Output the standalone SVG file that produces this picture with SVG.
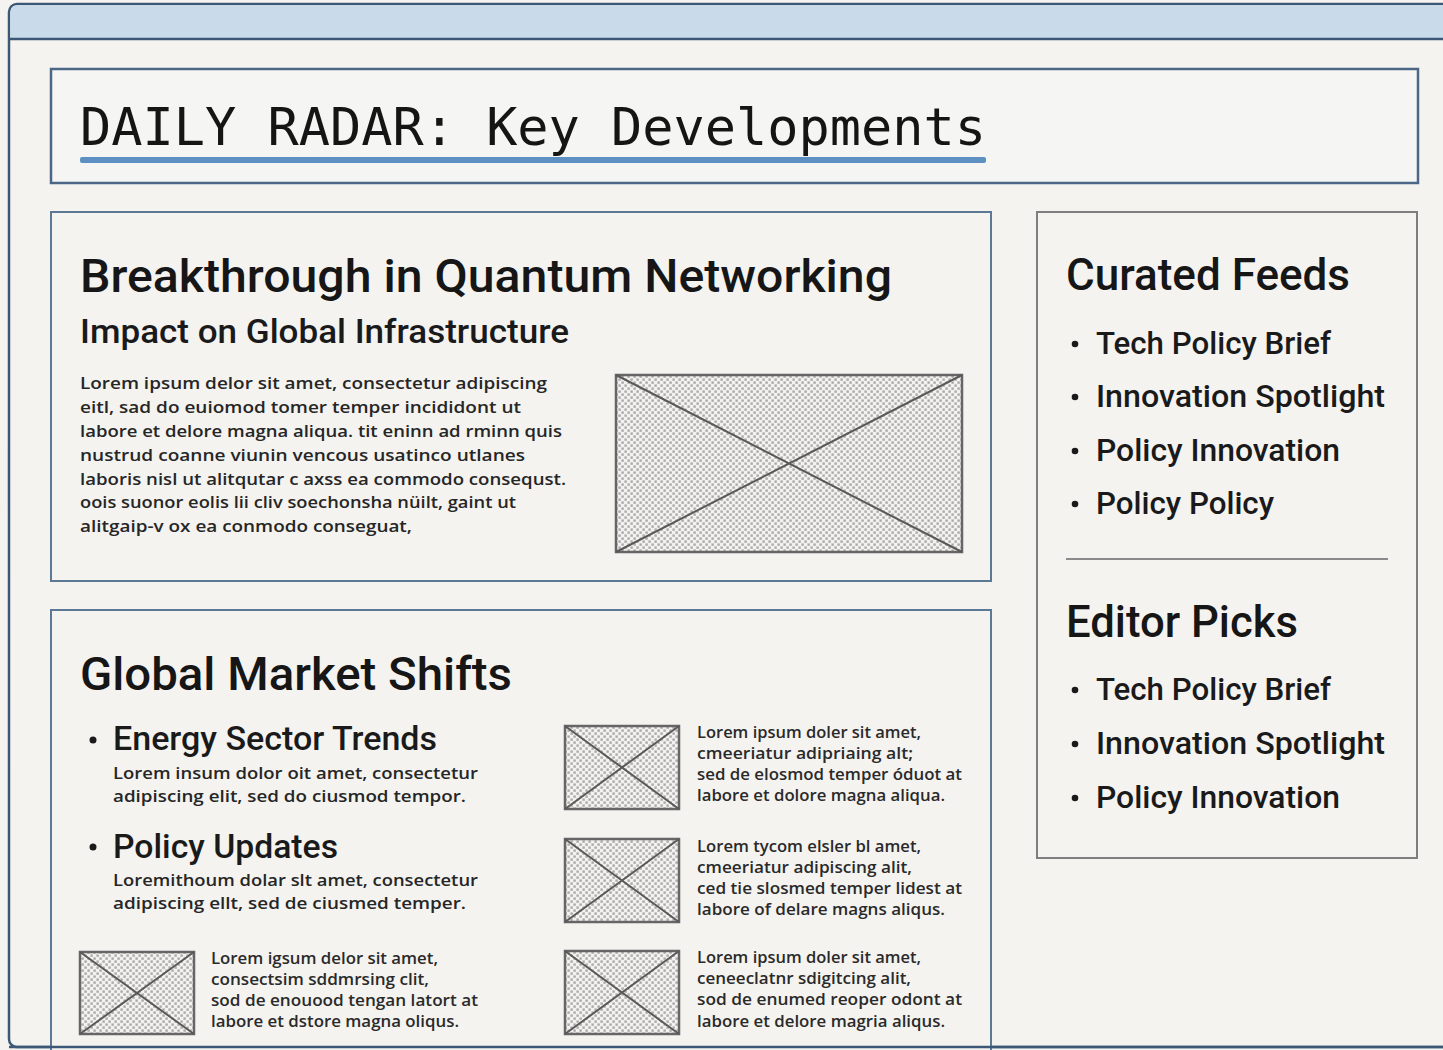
<svg xmlns="http://www.w3.org/2000/svg" width="1443" height="1050" viewBox="0 0 1443 1050">
<defs>
<pattern id="dots" width="6" height="6" patternUnits="userSpaceOnUse">
<rect width="6" height="6" fill="#f3f2f0"/>
<rect x="0.4" y="0.4" width="2.4" height="2.4" fill="#a9a9a9"/>
<rect x="3.4" y="3.4" width="2.4" height="2.4" fill="#a9a9a9"/>
</pattern>
<style>
.mono{font-family:"DejaVu Sans Mono","Liberation Mono",monospace;fill:#151515}
.h{font-family:Roboto,"Noto Sans",sans-serif;fill:#161616;font-weight:500}
.s{font-family:Roboto,"Noto Sans",sans-serif;fill:#1a1a1a;font-weight:500}
.b{font-family:"Open Sans","Noto Sans",sans-serif;fill:#262626;font-size:17px;font-weight:600}
.sm{font-family:"Open Sans","Noto Sans",sans-serif;fill:#2a2a2a;font-size:15.5px;font-weight:600}
.card{fill:#f4f3f0;stroke:#5b7894;stroke-width:2}
.side{fill:#f4f3f0;stroke:#7e7e7e;stroke-width:2}
.img{fill:url(#dots);stroke:#666;stroke-width:2.5}
.x{stroke:#595959;stroke-width:2;fill:none}
.dot{fill:#1a1a1a}
</style>
</defs>
<rect width="1443" height="1050" fill="#f4f3f0"/>
<g id="frame">
<rect x="9" y="4" width="1446" height="1043" rx="8" fill="#f4f3f0" stroke="#3d5877" stroke-width="2.5"/>
<path d="M10.5 39 V12 Q10.5 5.3 17 5.3 H1443 V39 Z" fill="#c9dbea"/>
<line x1="9" y1="39" x2="1443" y2="39" stroke="#3d5877" stroke-width="2.5"/>
</g>
<g id="header">
<rect x="51" y="69" width="1367" height="114" fill="#f5f5f3" stroke="#4b6785" stroke-width="2.5"/>
<text class="mono" x="80" y="145" font-size="52" textLength="906" lengthAdjust="spacingAndGlyphs">DAILY RADAR: Key Developments</text>
<rect x="80" y="157" width="906" height="6" rx="2" fill="#5d8fc2"/>
</g>
<g id="card-quantum">
<rect class="card" x="51" y="212" width="940" height="369"/>
<text class="h" x="80" y="292" font-size="47" textLength="812" lengthAdjust="spacingAndGlyphs">Breakthrough in Quantum Networking</text>
<text class="s" x="80" y="343" font-size="33" textLength="489" lengthAdjust="spacingAndGlyphs">Impact on Global Infrastructure</text>
<text class="b" x="80" y="389" textLength="467" lengthAdjust="spacingAndGlyphs">Lorem ipsum delor sit amet, consectetur adipiscing</text>
<text class="b" x="80" y="413" textLength="441" lengthAdjust="spacingAndGlyphs">eitl, sad do euiomod tomer temper incididont ut</text>
<text class="b" x="80" y="437" textLength="482" lengthAdjust="spacingAndGlyphs">labore et delore magna aliqua. tit eninn ad rminn quis</text>
<text class="b" x="80" y="461" textLength="445" lengthAdjust="spacingAndGlyphs">nustrud coanne viunin vencous usatinco utlanes</text>
<text class="b" x="80" y="485" textLength="486" lengthAdjust="spacingAndGlyphs">laboris nisl ut alitqutar c axss ea commodo consequst.</text>
<text class="b" x="80" y="508" textLength="436" lengthAdjust="spacingAndGlyphs">oois suonor eolis lii cliv soechonsha nüilt, gaint ut</text>
<text class="b" x="80" y="532" textLength="332" lengthAdjust="spacingAndGlyphs">alitgaip-v ox ea conmodo conseguat,</text>
<rect class="img" x="616" y="375" width="346" height="177"/>
<path class="x" d="M616 375 L962 552 M962 375 L616 552"/>
</g>
<g id="card-market">
<rect class="card" x="51" y="610" width="940" height="460"/>
<text class="h" x="80" y="690" font-size="47" textLength="432" lengthAdjust="spacingAndGlyphs">Global Market Shifts</text>
<circle class="dot" cx="93" cy="740" r="3.5"/>
<text class="s" x="113" y="750" font-size="34" textLength="324" lengthAdjust="spacingAndGlyphs">Energy Sector Trends</text>
<text class="b" x="113" y="779" textLength="365" lengthAdjust="spacingAndGlyphs">Lorem insum dolor oit amet, consectetur</text>
<text class="b" x="113" y="802" textLength="353" lengthAdjust="spacingAndGlyphs">adipiscing elit, sed do ciusmod tempor.</text>
<circle class="dot" cx="93" cy="847" r="3.5"/>
<text class="s" x="113" y="858" font-size="34" textLength="225" lengthAdjust="spacingAndGlyphs">Policy Updates</text>
<text class="b" x="113" y="886" textLength="365" lengthAdjust="spacingAndGlyphs">Loremithoum dolar slt amet, consectetur</text>
<text class="b" x="113" y="909" textLength="353" lengthAdjust="spacingAndGlyphs">adipiscing ellt, sed de ciusmed temper.</text>

<rect class="img" x="80" y="952" width="114" height="82"/>
<path class="x" d="M80 952 L194 1034 M194 952 L80 1034"/>
<text class="sm" x="211" y="964" textLength="227" lengthAdjust="spacingAndGlyphs">Lorem igsum delor sit amet,</text>
<text class="sm" x="211" y="985" textLength="218" lengthAdjust="spacingAndGlyphs">consectsim sddmrsing clit,</text>
<text class="sm" x="211" y="1006" textLength="267" lengthAdjust="spacingAndGlyphs">sod de enouood tengan latort at</text>
<text class="sm" x="211" y="1027" textLength="248" lengthAdjust="spacingAndGlyphs">labore et dstore magna oliqus.</text>

<rect class="img" x="565" y="726" width="114" height="83"/>
<path class="x" d="M565 726 L679 809 M679 726 L565 809"/>
<text class="sm" x="697" y="738" textLength="224" lengthAdjust="spacingAndGlyphs">Lorem ipsum doler sit amet,</text>
<text class="sm" x="697" y="759" textLength="216" lengthAdjust="spacingAndGlyphs">cmeeriatur adipriaing alt;</text>
<text class="sm" x="697" y="780" textLength="265" lengthAdjust="spacingAndGlyphs">sed de elosmod temper óduot at</text>
<text class="sm" x="697" y="801" textLength="248" lengthAdjust="spacingAndGlyphs">labore et dolore magna aliqua.</text>

<rect class="img" x="565" y="839" width="114" height="83"/>
<path class="x" d="M565 839 L679 922 M679 839 L565 922"/>
<text class="sm" x="697" y="852" textLength="224" lengthAdjust="spacingAndGlyphs">Lorem tycom elsler bl amet,</text>
<text class="sm" x="697" y="873" textLength="215" lengthAdjust="spacingAndGlyphs">cmeeriatur adipiscing alit,</text>
<text class="sm" x="697" y="894" textLength="265" lengthAdjust="spacingAndGlyphs">ced tie slosmed temper lidest at</text>
<text class="sm" x="697" y="915" textLength="248" lengthAdjust="spacingAndGlyphs">labore of delare magns aliqus.</text>

<rect class="img" x="565" y="951" width="114" height="83"/>
<path class="x" d="M565 951 L679 1034 M679 951 L565 1034"/>
<text class="sm" x="697" y="963" textLength="224" lengthAdjust="spacingAndGlyphs">Lorem ipsum doler sit amet,</text>
<text class="sm" x="697" y="984" textLength="214" lengthAdjust="spacingAndGlyphs">ceneeclatnr sdigitcing alit,</text>
<text class="sm" x="697" y="1005" textLength="265" lengthAdjust="spacingAndGlyphs">sod de enumed reoper odont at</text>
<text class="sm" x="697" y="1027" textLength="248" lengthAdjust="spacingAndGlyphs">labore et delore magria aliqus.</text>
</g>
<g id="sidebar">
<rect class="side" x="1037" y="212" width="380" height="646"/>
<text class="h" x="1066" y="290" font-size="44" textLength="284" lengthAdjust="spacingAndGlyphs">Curated Feeds</text>
<circle class="dot" cx="1075" cy="344" r="3.3"/>
<text class="s" x="1096" y="354" font-size="32" textLength="235" lengthAdjust="spacingAndGlyphs">Tech Policy Brief</text>
<circle class="dot" cx="1075" cy="397" r="3.3"/>
<text class="s" x="1096" y="407" font-size="32" textLength="289" lengthAdjust="spacingAndGlyphs">Innovation Spotlight</text>
<circle class="dot" cx="1075" cy="451" r="3.3"/>
<text class="s" x="1096" y="461" font-size="32" textLength="244" lengthAdjust="spacingAndGlyphs">Policy Innovation</text>
<circle class="dot" cx="1075" cy="504" r="3.3"/>
<text class="s" x="1096" y="514" font-size="32" textLength="178" lengthAdjust="spacingAndGlyphs">Policy Policy</text>
<line x1="1066" y1="559" x2="1388" y2="559" stroke="#8a8a8a" stroke-width="2"/>
<text class="h" x="1066" y="637" font-size="44" textLength="232" lengthAdjust="spacingAndGlyphs">Editor Picks</text>
<circle class="dot" cx="1075" cy="690" r="3.3"/>
<text class="s" x="1096" y="700" font-size="32" textLength="235" lengthAdjust="spacingAndGlyphs">Tech Policy Brief</text>
<circle class="dot" cx="1075" cy="744" r="3.3"/>
<text class="s" x="1096" y="754" font-size="32" textLength="289" lengthAdjust="spacingAndGlyphs">Innovation Spotlight</text>
<circle class="dot" cx="1075" cy="798" r="3.3"/>
<text class="s" x="1096" y="808" font-size="32" textLength="244" lengthAdjust="spacingAndGlyphs">Policy Innovation</text>
</g>
<g id="connectors"></g>
<line x1="9" y1="1047" x2="1443" y2="1047" stroke="#3d5877" stroke-width="2.5"/>
</svg>
